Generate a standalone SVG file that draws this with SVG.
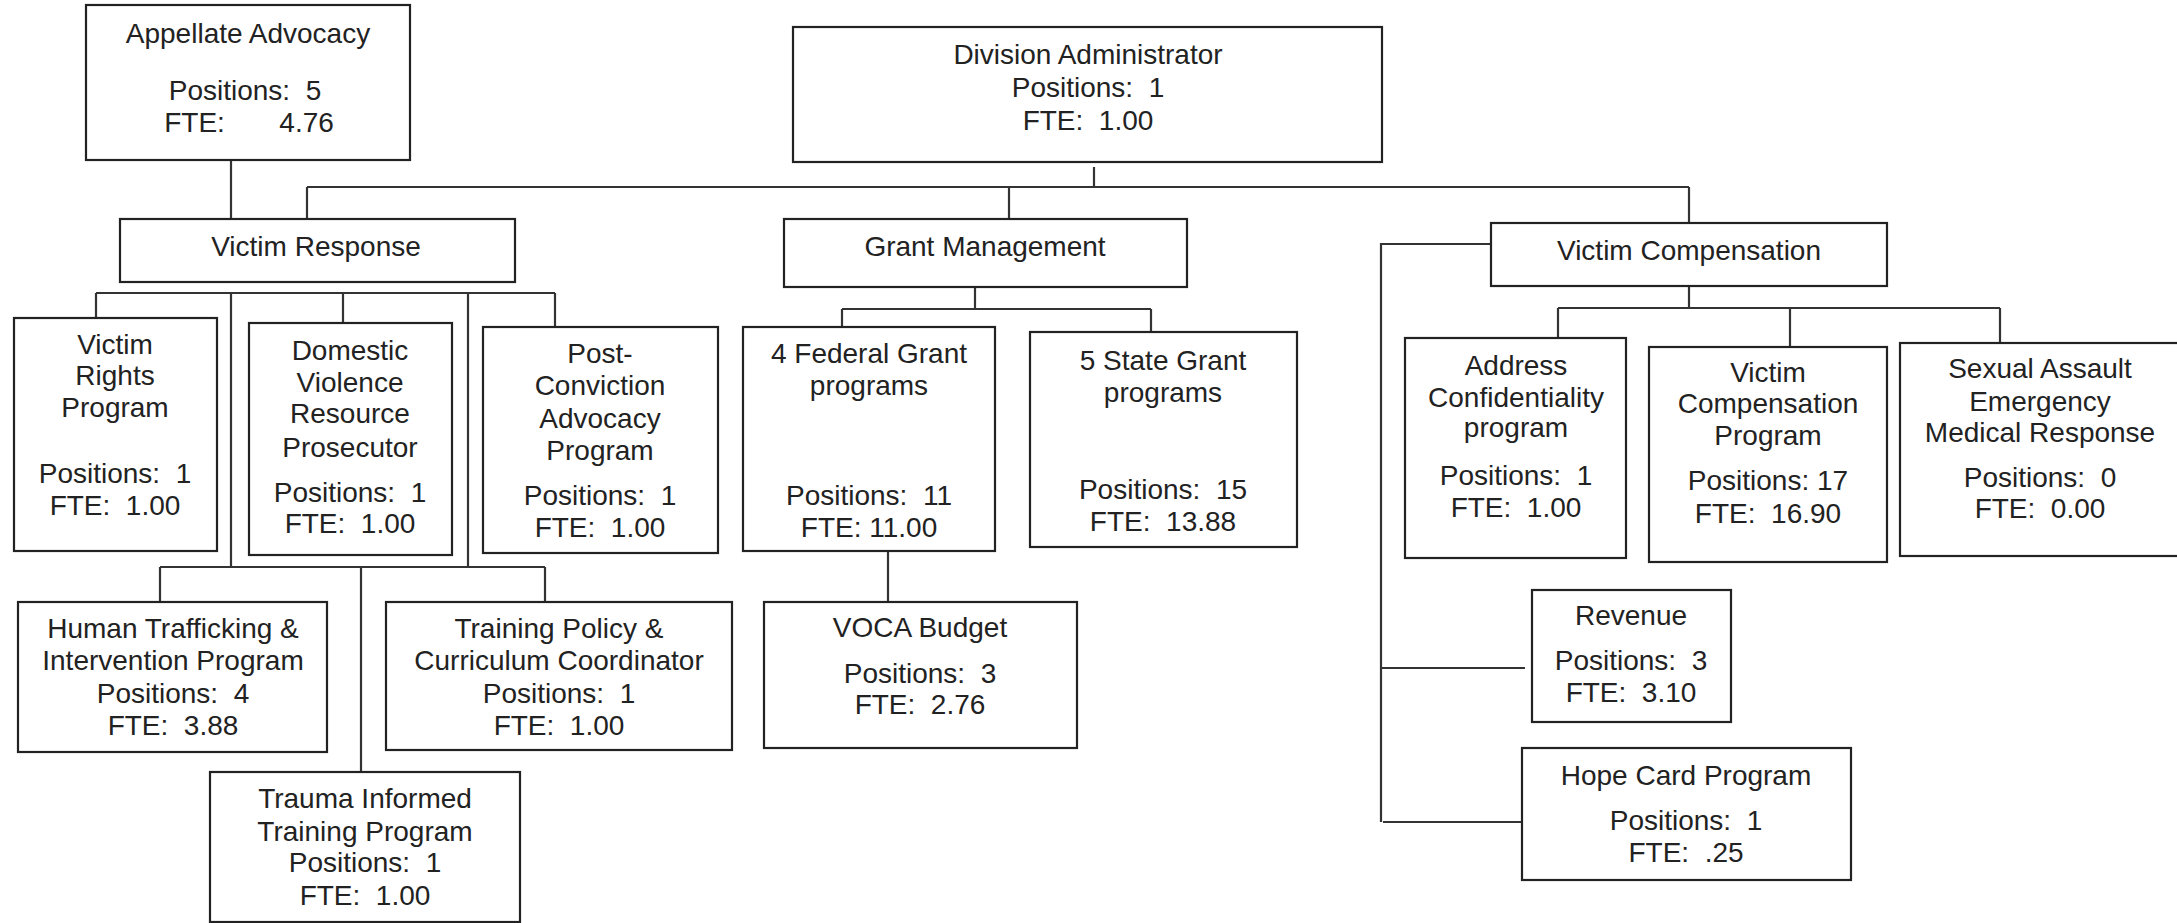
<svg xmlns="http://www.w3.org/2000/svg" width="2177" height="923" viewBox="0 0 2177 923" xml:space="preserve">
<style>
.box{fill:#fff;stroke:#222;stroke-width:2.2}
.ln{stroke:#333;stroke-width:2.2;fill:none}
text{font-family:"Liberation Sans",Arial,sans-serif;font-size:28px;fill:#222;text-anchor:middle;white-space:pre}
</style>
<rect x="0" y="0" width="2177" height="923" fill="#fff"/>
<g id="connectors">
<path class="ln" d="M231,160 V219"/>
<path class="ln" d="M1094,167 V187"/>
<path class="ln" d="M307,187 H1689"/>
<path class="ln" d="M307,187 V219"/>
<path class="ln" d="M1009,187 V219"/>
<path class="ln" d="M1689,187 V223"/>
<path class="ln" d="M96,293 H555"/>
<path class="ln" d="M96,293 V318"/>
<path class="ln" d="M343,293 V323"/>
<path class="ln" d="M555,293 V327"/>
<path class="ln" d="M231,293 V567"/>
<path class="ln" d="M468,293 V567"/>
<path class="ln" d="M160,567 H545"/>
<path class="ln" d="M160,567 V602"/>
<path class="ln" d="M361,567 V772"/>
<path class="ln" d="M545,567 V602"/>
<path class="ln" d="M975,287 V309"/>
<path class="ln" d="M842,309 H1151"/>
<path class="ln" d="M842,309 V327"/>
<path class="ln" d="M1151,309 V332"/>
<path class="ln" d="M888,551 V602"/>
<path class="ln" d="M1689,286 V308"/>
<path class="ln" d="M1558,308 H2000"/>
<path class="ln" d="M1558,308 V338"/>
<path class="ln" d="M1790,308 V347"/>
<path class="ln" d="M2000,308 V343"/>
<path class="ln" d="M1491,244 H1381 V822"/>
<path class="ln" d="M1381,668 H1525"/>
<path class="ln" d="M1383,822 H1527"/>
</g>
<g id="appellate-advocacy">
<rect class="box" x="86" y="5" width="324" height="155"/>
<text x="248" y="43">Appellate Advocacy</text>
<text x="245" y="100">Positions:  5</text>
<text x="249" y="132">FTE:       4.76</text>
</g>
<g id="division-administrator">
<rect class="box" x="793" y="27" width="589" height="135"/>
<text x="1088" y="64">Division Administrator</text>
<text x="1088" y="97">Positions:  1</text>
<text x="1088" y="130">FTE:  1.00</text>
</g>
<g id="victim-response">
<rect class="box" x="120" y="219" width="395" height="63"/>
<text x="316" y="256">Victim Response</text>
</g>
<g id="grant-management">
<rect class="box" x="784" y="219" width="403" height="68"/>
<text x="985" y="256">Grant Management</text>
</g>
<g id="victim-compensation">
<rect class="box" x="1491" y="223" width="396" height="63"/>
<text x="1689" y="260">Victim Compensation</text>
</g>
<g id="victim-rights-program">
<rect class="box" x="14" y="318" width="203" height="233"/>
<text x="115" y="354">Victim</text>
<text x="115" y="385">Rights</text>
<text x="115" y="417">Program</text>
<text x="115" y="483">Positions:  1</text>
<text x="115" y="515">FTE:  1.00</text>
</g>
<g id="domestic-violence">
<rect class="box" x="249" y="323" width="203" height="232"/>
<text x="350" y="360">Domestic</text>
<text x="350" y="392">Violence</text>
<text x="350" y="423">Resource</text>
<text x="350" y="457">Prosecutor</text>
<text x="350" y="502">Positions:  1</text>
<text x="350" y="533">FTE:  1.00</text>
</g>
<g id="post-conviction">
<rect class="box" x="483" y="327" width="235" height="226"/>
<text x="600" y="363">Post-</text>
<text x="600" y="395">Conviction</text>
<text x="600" y="428">Advocacy</text>
<text x="600" y="460">Program</text>
<text x="600" y="505">Positions:  1</text>
<text x="600" y="537">FTE:  1.00</text>
</g>
<g id="federal-grant">
<rect class="box" x="743" y="327" width="252" height="224"/>
<text x="869" y="363">4 Federal Grant</text>
<text x="869" y="395">programs</text>
<text x="869" y="505">Positions:  11</text>
<text x="869" y="537">FTE: 11.00</text>
</g>
<g id="state-grant">
<rect class="box" x="1030" y="332" width="267" height="215"/>
<text x="1163" y="370">5 State Grant</text>
<text x="1163" y="402">programs</text>
<text x="1163" y="499">Positions:  15</text>
<text x="1163" y="531">FTE:  13.88</text>
</g>
<g id="address-confidentiality">
<rect class="box" x="1405" y="338" width="221" height="220"/>
<text x="1516" y="375">Address</text>
<text x="1516" y="407">Confidentiality</text>
<text x="1516" y="437">program</text>
<text x="1516" y="485">Positions:  1</text>
<text x="1516" y="517">FTE:  1.00</text>
</g>
<g id="victim-compensation-program">
<rect class="box" x="1649" y="347" width="238" height="215"/>
<text x="1768" y="382">Victim</text>
<text x="1768" y="413">Compensation</text>
<text x="1768" y="445">Program</text>
<text x="1768" y="490">Positions: 17</text>
<text x="1768" y="523">FTE:  16.90</text>
</g>
<g id="sexual-assault">
<rect class="box" x="1900" y="343" width="280" height="213"/>
<text x="2040" y="378">Sexual Assault</text>
<text x="2040" y="411">Emergency</text>
<text x="2040" y="442">Medical Response</text>
<text x="2040" y="487">Positions:  0</text>
<text x="2040" y="518">FTE:  0.00</text>
</g>
<g id="human-trafficking">
<rect class="box" x="18" y="602" width="309" height="150"/>
<text x="173" y="638">Human Trafficking &amp;</text>
<text x="173" y="670">Intervention Program</text>
<text x="173" y="703">Positions:  4</text>
<text x="173" y="735">FTE:  3.88</text>
</g>
<g id="training-policy">
<rect class="box" x="386" y="602" width="346" height="148"/>
<text x="559" y="638">Training Policy &amp;</text>
<text x="559" y="670">Curriculum Coordinator</text>
<text x="559" y="703">Positions:  1</text>
<text x="559" y="735">FTE:  1.00</text>
</g>
<g id="trauma-informed">
<rect class="box" x="210" y="772" width="310" height="150"/>
<text x="365" y="808">Trauma Informed</text>
<text x="365" y="841">Training Program</text>
<text x="365" y="872">Positions:  1</text>
<text x="365" y="905">FTE:  1.00</text>
</g>
<g id="voca-budget">
<rect class="box" x="764" y="602" width="313" height="146"/>
<text x="920" y="637">VOCA Budget</text>
<text x="920" y="683">Positions:  3</text>
<text x="920" y="714">FTE:  2.76</text>
</g>
<g id="revenue">
<rect class="box" x="1532" y="590" width="199" height="132"/>
<text x="1631" y="625">Revenue</text>
<text x="1631" y="670">Positions:  3</text>
<text x="1631" y="702">FTE:  3.10</text>
</g>
<g id="hope-card">
<rect class="box" x="1522" y="748" width="329" height="132"/>
<text x="1686" y="785">Hope Card Program</text>
<text x="1686" y="830">Positions:  1</text>
<text x="1686" y="862">FTE:  .25</text>
</g>
</svg>
